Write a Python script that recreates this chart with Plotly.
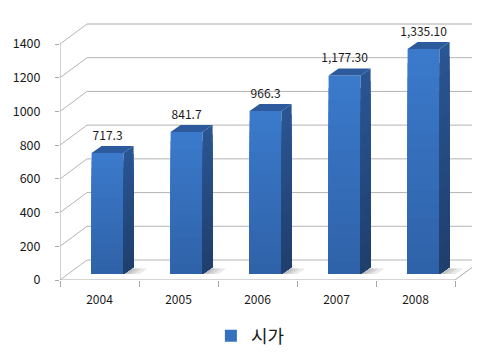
import plotly.graph_objects as go

# ---- data ----
years = ['2004', '2005', '2006', '2007', '2008']
values = [717.3, 841.7, 966.3, 1177.3, 1335.1]
value_labels = ['717.3', '841.7', '966.3', '1,177.30', '1,335.10']
y_ticks = [0, 200, 400, 600, 800, 1000, 1200, 1400]
series_name = '시가'

# ---- geometry (pixel-based, converted to data units) ----
W, H = 480, 360
ML, MR, MT, MB = 52, 5, 14, 88
KX = 79.0                 # px per category
KY = 236.0 / 1400.0       # px per value unit
x0 = -0.5
x1 = x0 + (W - ML - MR) / KX
y1 = (H - MT - MB) / KY

DX, DY = 27 / KX, 20 / KY          # full depth of floor / wall
F0 = 0.3                           # depth position of bar front face
BDX, BDY = 10 / KX, 7 / KY         # bar depth
BW = 32 / KX                       # bar width
BZ = F0 * DY                       # bar base (data units)
n = len(years)
centers = [i + F0 * DX for i in range(n)]
NSEG = 16                          # gradient steps

font_fam = 'Malgun Gothic, Noto Sans CJK KR, sans-serif'
grid_col = '#b4b4b4'


def mix(c1, c2, t):
    a = [int(c1[i:i + 2], 16) for i in (1, 3, 5)]
    b = [int(c2[i:i + 2], 16) for i in (1, 3, 5)]
    return 'rgb(%d,%d,%d)' % tuple(round(a[j] + (b[j] - a[j]) * t) for j in range(3))


shapes = []
def line(xa, ya, xb, yb, col=grid_col, w=1):
    shapes.append(dict(type='line', xref='x', yref='y', x0=xa, y0=ya, x1=xb, y1=yb,
                       line=dict(color=col, width=w), layer='below'))

# back wall gridlines and left wall diagonals
for v in y_ticks:
    col = '#d4d4d4' if v == y_ticks[-1] else grid_col
    w = 2 if v == y_ticks[-1] else 1
    line(x0, v, x0 + DX, v + DY)
    line(x0 + DX, v + DY, n - 0.5 + DX, v + DY, col, w)
# floor edges and vertical axis
line(x0, 0, n - 0.5, 0, '#a8a8a8')
line(n - 0.5, 0, n - 0.5 + DX, DY, '#a8a8a8')
line(x0, 0, x0, y_ticks[-1], '#a8a8a8')

# soft floor shadows
for c in centers:
    xr = c + BW / 2
    for k, a in ((0.20, 0.18), (0.13, 0.22), (0.07, 0.25)):
        shapes.append(dict(type='path', xref='x', yref='y', layer='below',
                           path=f'M {xr},{BZ} L {xr + k},{BZ} L {xr + k + BDX * 0.8},{BZ + BDY * 0.8} L {xr + BDX * 0.8},{BZ + BDY * 0.8} Z',
                           fillcolor=f'rgba(140,140,140,{a})', line=dict(width=0)))

fig = go.Figure()

# front faces with vertical gradient: nested bars from BZ, tallest drawn first
bx, by, bc = [], [], []
for k in range(NSEG - 1, -1, -1):
    for c, v in zip(centers, values):
        bx.append(c)
        by.append(v * (k + 1) / NSEG)
        bc.append(mix('#2F62A8', '#3B7ACC', (k + 0.5) / NSEG))
fig.add_trace(go.Bar(x=bx, y=by, base=BZ, width=BW, showlegend=False,
                     marker=dict(color=bc, line=dict(width=0)), hoverinfo='skip'))

# legend entry
fig.add_trace(go.Bar(x=[None], y=[None], name=series_name,
                     marker=dict(color='#3671BF', line=dict(width=0))))

# side faces with gradient, tallest drawn first
for k in range(NSEG - 1, -1, -1):
    col = mix('#1F3E6C', '#2A5694', (k + 0.5) / NSEG)
    sx, sy = [], []
    for c, v in zip(centers, values):
        xr = c + BW / 2
        hi = BZ + v * (k + 1) / NSEG
        sx += [xr, xr, xr + BDX, xr + BDX, xr, None]
        sy += [BZ, hi, hi + BDY, BZ + BDY, BZ, None]
    fig.add_trace(go.Scatter(x=sx, y=sy, mode='lines', fill='toself', fillcolor=col,
                             line=dict(width=0), showlegend=False, hoverinfo='skip'))

# top faces
tx, ty = [], []
for c, v in zip(centers, values):
    xl, xr = c - BW / 2, c + BW / 2
    top = BZ + v
    tx += [xl, xr, xr + BDX, xl + BDX, xl, None]
    ty += [top, top, top + BDY, top + BDY, top, None]
fig.add_trace(go.Scatter(x=tx, y=ty, mode='lines', fill='toself', fillcolor='#2C5A9C',
                         line=dict(width=0), showlegend=False, hoverinfo='skip'))

# value labels
fig.add_trace(go.Scatter(x=centers, y=[BZ + v + BDY + 20 for v in values],
                         mode='text', text=value_labels, textposition='top center',
                         textfont=dict(size=12, color='#1a1a1a', family=font_fam),
                         showlegend=False, hoverinfo='skip'))

# axis for ticks at category boundaries
fig.add_trace(go.Scatter(x=[x0], y=[0], xaxis='x2', mode='markers',
                         marker=dict(opacity=0), showlegend=False, hoverinfo='skip'))

fig.update_layout(
    width=W, height=H,
    margin=dict(l=ML, r=MR, t=MT, b=MB, autoexpand=False),
    paper_bgcolor='white', plot_bgcolor='white',
    barmode='overlay',
    font=dict(family=font_fam, color='#1a1a1a', size=12),
    shapes=shapes,
    showlegend=True,
    legend=dict(orientation='h', xref='container', yref='container',
                x=0.505, xanchor='center', y=1 - 328 / H, yanchor='middle',
                font=dict(size=18, family=font_fam, color='#1a1a1a'),
                itemwidth=30),
    xaxis=dict(range=[x0, x1], tickvals=list(range(n)), ticktext=years, showgrid=False,
               zeroline=False, showline=False, ticks='', ticklabelstandoff=11,
               tickfont=dict(size=12), automargin=False),
    xaxis2=dict(range=[x0, x1], overlaying='x', side='bottom', anchor='y',
                tickvals=[i - 0.5 for i in range(n + 1)], showticklabels=False,
                ticks='outside', ticklen=6, tickcolor='#a8a8a8', showgrid=False,
                zeroline=False, showline=False, automargin=False),
    yaxis=dict(range=[0, y1], tickvals=y_ticks, showgrid=False, zeroline=False,
               showline=False, ticks='outside', ticklen=4, tickcolor='#a8a8a8',
               ticklabelstandoff=12, tickfont=dict(size=12.5), automargin=False),
)

fig.write_html('out.html')
